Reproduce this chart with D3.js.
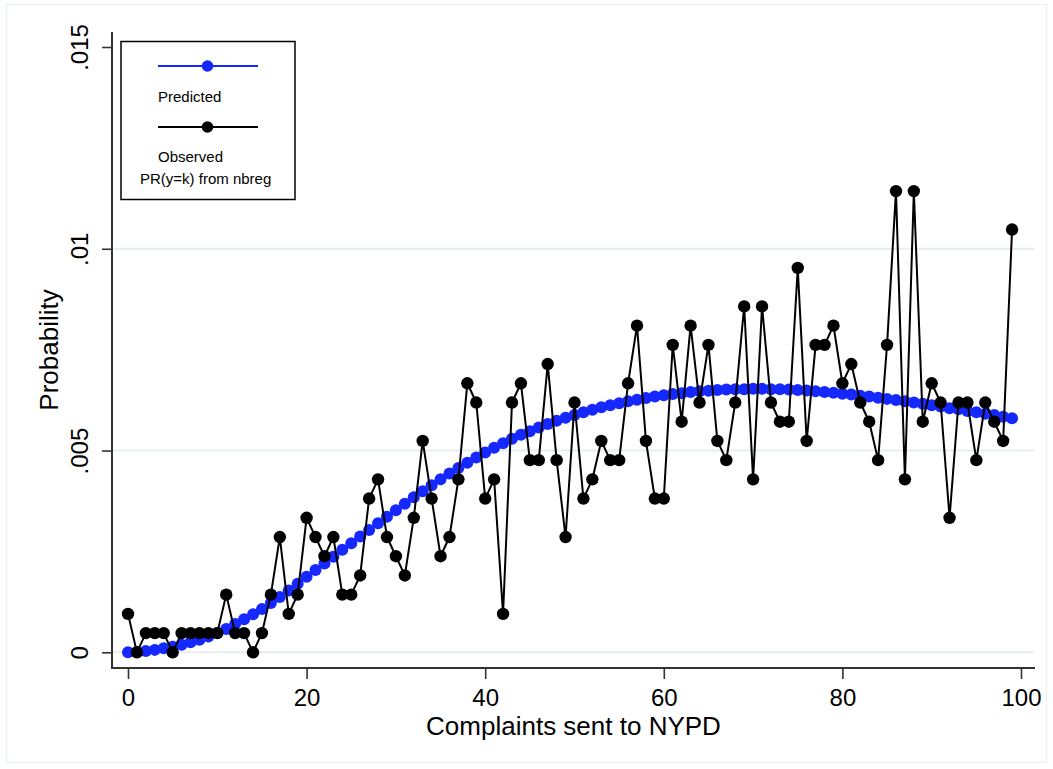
<!DOCTYPE html>
<html>
<head>
<meta charset="utf-8">
<script src="https://cdn.jsdelivr.net/npm/d3@7"></script>
<style>
  html, body { margin: 0; padding: 0; background: #ffffff; }
  svg { display: block; font-family: "Liberation Sans", Arial, Helvetica, sans-serif; }
</style>
</head>
<body>
<svg id="chart" width="1053" height="769"></svg>
<script>
// Number of complaints sent to NYPD (0..99)
const complaints = d3.range(0, 100);

// Predicted probability Pr(y = k) from the negative binomial model
const predicted = [
  0.00000, 0.00001, 0.00003, 0.00006, 0.00010, 0.00014, 0.00019, 0.00025, 0.00031, 0.00039,
  0.00048, 0.00058, 0.00070, 0.00082, 0.00094, 0.00107, 0.00122, 0.00137, 0.00153, 0.00170,
  0.00187, 0.00204, 0.00220, 0.00237, 0.00254, 0.00270, 0.00287, 0.00303, 0.00320, 0.00336,
  0.00352, 0.00368, 0.00384, 0.00399, 0.00414, 0.00429, 0.00443, 0.00457, 0.00470, 0.00483,
  0.00495, 0.00507, 0.00518, 0.00529, 0.00539, 0.00548, 0.00557, 0.00566, 0.00574, 0.00581,
  0.00588, 0.00595, 0.00601, 0.00607, 0.00612, 0.00617, 0.00622, 0.00626, 0.00630, 0.00634,
  0.00637, 0.00640, 0.00642, 0.00645, 0.00647, 0.00648, 0.00650, 0.00651, 0.00652, 0.00652,
  0.00653, 0.00653, 0.00652, 0.00652, 0.00651, 0.00650, 0.00649, 0.00647, 0.00645, 0.00643,
  0.00641, 0.00639, 0.00636, 0.00634, 0.00631, 0.00628, 0.00625, 0.00622, 0.00619, 0.00616,
  0.00612, 0.00609, 0.00605, 0.00602, 0.00598, 0.00595, 0.00591, 0.00588, 0.00584, 0.00580
];

// Observed share of cases with k complaints
const observed = [
  0.000952, 0.000000, 0.000476, 0.000476, 0.000476, 0.000000, 0.000476, 0.000476, 0.000476, 0.000476,
  0.000476, 0.001429, 0.000476, 0.000476, 0.000000, 0.000476, 0.001429, 0.002857, 0.000952, 0.001429,
  0.003333, 0.002857, 0.002381, 0.002857, 0.001429, 0.001429, 0.001905, 0.003810, 0.004286, 0.002857,
  0.002381, 0.001905, 0.003333, 0.005238, 0.003810, 0.002381, 0.002857, 0.004286, 0.006667, 0.006190,
  0.003810, 0.004286, 0.000952, 0.006190, 0.006667, 0.004762, 0.004762, 0.007143, 0.004762, 0.002857,
  0.006190, 0.003810, 0.004286, 0.005238, 0.004762, 0.004762, 0.006667, 0.008095, 0.005238, 0.003810,
  0.003810, 0.007619, 0.005714, 0.008095, 0.006190, 0.007619, 0.005238, 0.004762, 0.006190, 0.008571,
  0.004286, 0.008571, 0.006190, 0.005714, 0.005714, 0.009524, 0.005238, 0.007619, 0.007619, 0.008095,
  0.006667, 0.007143, 0.006190, 0.005714, 0.004762, 0.007619, 0.011429, 0.004286, 0.011429, 0.005714,
  0.006667, 0.006190, 0.003333, 0.006190, 0.006190, 0.004762, 0.006190, 0.005714, 0.005238, 0.010476
];

// Axis ticks
const xTicks = [0, 20, 40, 60, 80, 100];
const yTicks = [0, 0.005, 0.01, 0.015];
const yTickLabels = ["0", ".005", ".01", ".015"];
const gridTicks = [0, 0.005, 0.01];

// Text
const xTitle = "Complaints sent to NYPD";
const yTitle = "Probability";
const legendLabels = ["Predicted", "Observed"];
const legendNote = "PR(y=k) from nbreg";

const BLUE = "#1428ff";
const BLACK = "#000000";

const svg = d3.select("#chart");

// Plot region
const region = { left: 112, right: 1035, top: 32, bottom: 668 };

const x = d3.scaleLinear().domain([0, 100]).range([128, 1021]);
const y = d3.scaleLinear().domain([0, 0.015]).range([652.3, 47]);

// Outer graph frame
svg.append("rect")
  .attr("x", 6.5).attr("y", 4.5)
  .attr("width", 1040).attr("height", 758)
  .attr("fill", "none")
  .attr("stroke", "#e8eff1")
  .attr("stroke-width", 1.2);

// Horizontal grid lines
svg.append("g").selectAll("line")
  .data(gridTicks)
  .join("line")
  .attr("x1", region.left).attr("x2", region.right)
  .attr("y1", d => y(d)).attr("y2", d => y(d))
  .attr("stroke", "#e6eef0")
  .attr("stroke-width", 2);

// Predicted series (blue, drawn first)
const lineGen = d3.line().x((d, i) => x(complaints[i])).y(d => y(d));

svg.append("path")
  .datum(predicted)
  .attr("d", lineGen)
  .attr("fill", "none")
  .attr("stroke", BLUE)
  .attr("stroke-width", 2);

svg.append("g").selectAll("circle")
  .data(predicted)
  .join("circle")
  .attr("cx", (d, i) => x(complaints[i]))
  .attr("cy", d => y(d))
  .attr("r", 6)
  .attr("fill", BLUE);

// Observed series (black, on top)
svg.append("path")
  .datum(observed)
  .attr("d", lineGen)
  .attr("fill", "none")
  .attr("stroke", BLACK)
  .attr("stroke-width", 2)
  .attr("stroke-linejoin", "round");

svg.append("g").selectAll("circle")
  .data(observed)
  .join("circle")
  .attr("cx", (d, i) => x(complaints[i]))
  .attr("cy", d => y(d))
  .attr("r", 6.2)
  .attr("fill", BLACK);

// Axis lines
const axisColor = "#333333";
svg.append("line")
  .attr("x1", region.left).attr("x2", region.left)
  .attr("y1", region.top).attr("y2", region.bottom + 1)
  .attr("stroke", axisColor).attr("stroke-width", 2);
svg.append("line")
  .attr("x1", region.left - 1).attr("x2", region.right)
  .attr("y1", region.bottom).attr("y2", region.bottom)
  .attr("stroke", axisColor).attr("stroke-width", 2);

// X axis ticks and labels
const xAxis = svg.append("g")
  .attr("transform", `translate(0,${region.bottom})`)
  .call(d3.axisBottom(x).tickValues(xTicks).tickSize(11).tickSizeOuter(0).tickFormat(d3.format("d")));
xAxis.select(".domain").remove();
xAxis.selectAll(".tick line").attr("stroke", axisColor).attr("stroke-width", 1.6);
xAxis.selectAll(".tick text")
  .attr("y", 37.7).attr("dy", 0)
  .attr("fill", "#000")
  .style("font-family", "'Liberation Sans', Arial, sans-serif")
  .style("font-size", "24px");

// Y axis ticks and rotated labels
const yAxis = svg.append("g")
  .attr("transform", `translate(${region.left},0)`)
  .call(d3.axisLeft(y).tickValues(yTicks).tickSize(10).tickSizeOuter(0)
    .tickFormat((d, i) => yTickLabels[i]));
yAxis.select(".domain").remove();
yAxis.selectAll(".tick line").attr("stroke", axisColor).attr("stroke-width", 1.6);
yAxis.selectAll(".tick text")
  .attr("x", 0).attr("y", 0).attr("dy", 0)
  .attr("transform", "translate(-23.7,0) rotate(-90)")
  .attr("text-anchor", "middle")
  .attr("fill", "#000")
  .style("font-family", "'Liberation Sans', Arial, sans-serif")
  .style("font-size", "24px");

// Axis titles
svg.append("text")
  .attr("x", (region.left + region.right) / 2)
  .attr("y", 735)
  .attr("text-anchor", "middle")
  .style("font-size", "26px")
  .text(xTitle);

svg.append("text")
  .attr("transform", `translate(58,${(region.top + region.bottom) / 2}) rotate(-90)`)
  .attr("text-anchor", "middle")
  .style("font-size", "26px")
  .text(yTitle);

// Legend
const legend = svg.append("g");
legend.append("rect")
  .attr("x", 121).attr("y", 41.5)
  .attr("width", 174).attr("height", 158)
  .attr("fill", "#fff")
  .attr("stroke", "#000")
  .attr("stroke-width", 1.5);

const legendRows = [
  { color: BLUE, lineY: 66, label: legendLabels[0], textY: 102 },
  { color: BLACK, lineY: 127, label: legendLabels[1], textY: 162 }
];
legendRows.forEach(r => {
  legend.append("line")
    .attr("x1", 158).attr("x2", 258)
    .attr("y1", r.lineY).attr("y2", r.lineY)
    .attr("stroke", r.color).attr("stroke-width", 2);
  legend.append("circle")
    .attr("cx", 207.5).attr("cy", r.lineY).attr("r", 5.8)
    .attr("fill", r.color);
  legend.append("text")
    .attr("x", 158).attr("y", r.textY)
    .style("font-size", "15px")
    .text(r.label);
});
legend.append("text")
  .attr("x", 140).attr("y", 184)
  .style("font-size", "15px")
  .text(legendNote);
</script>
</body>
</html>
